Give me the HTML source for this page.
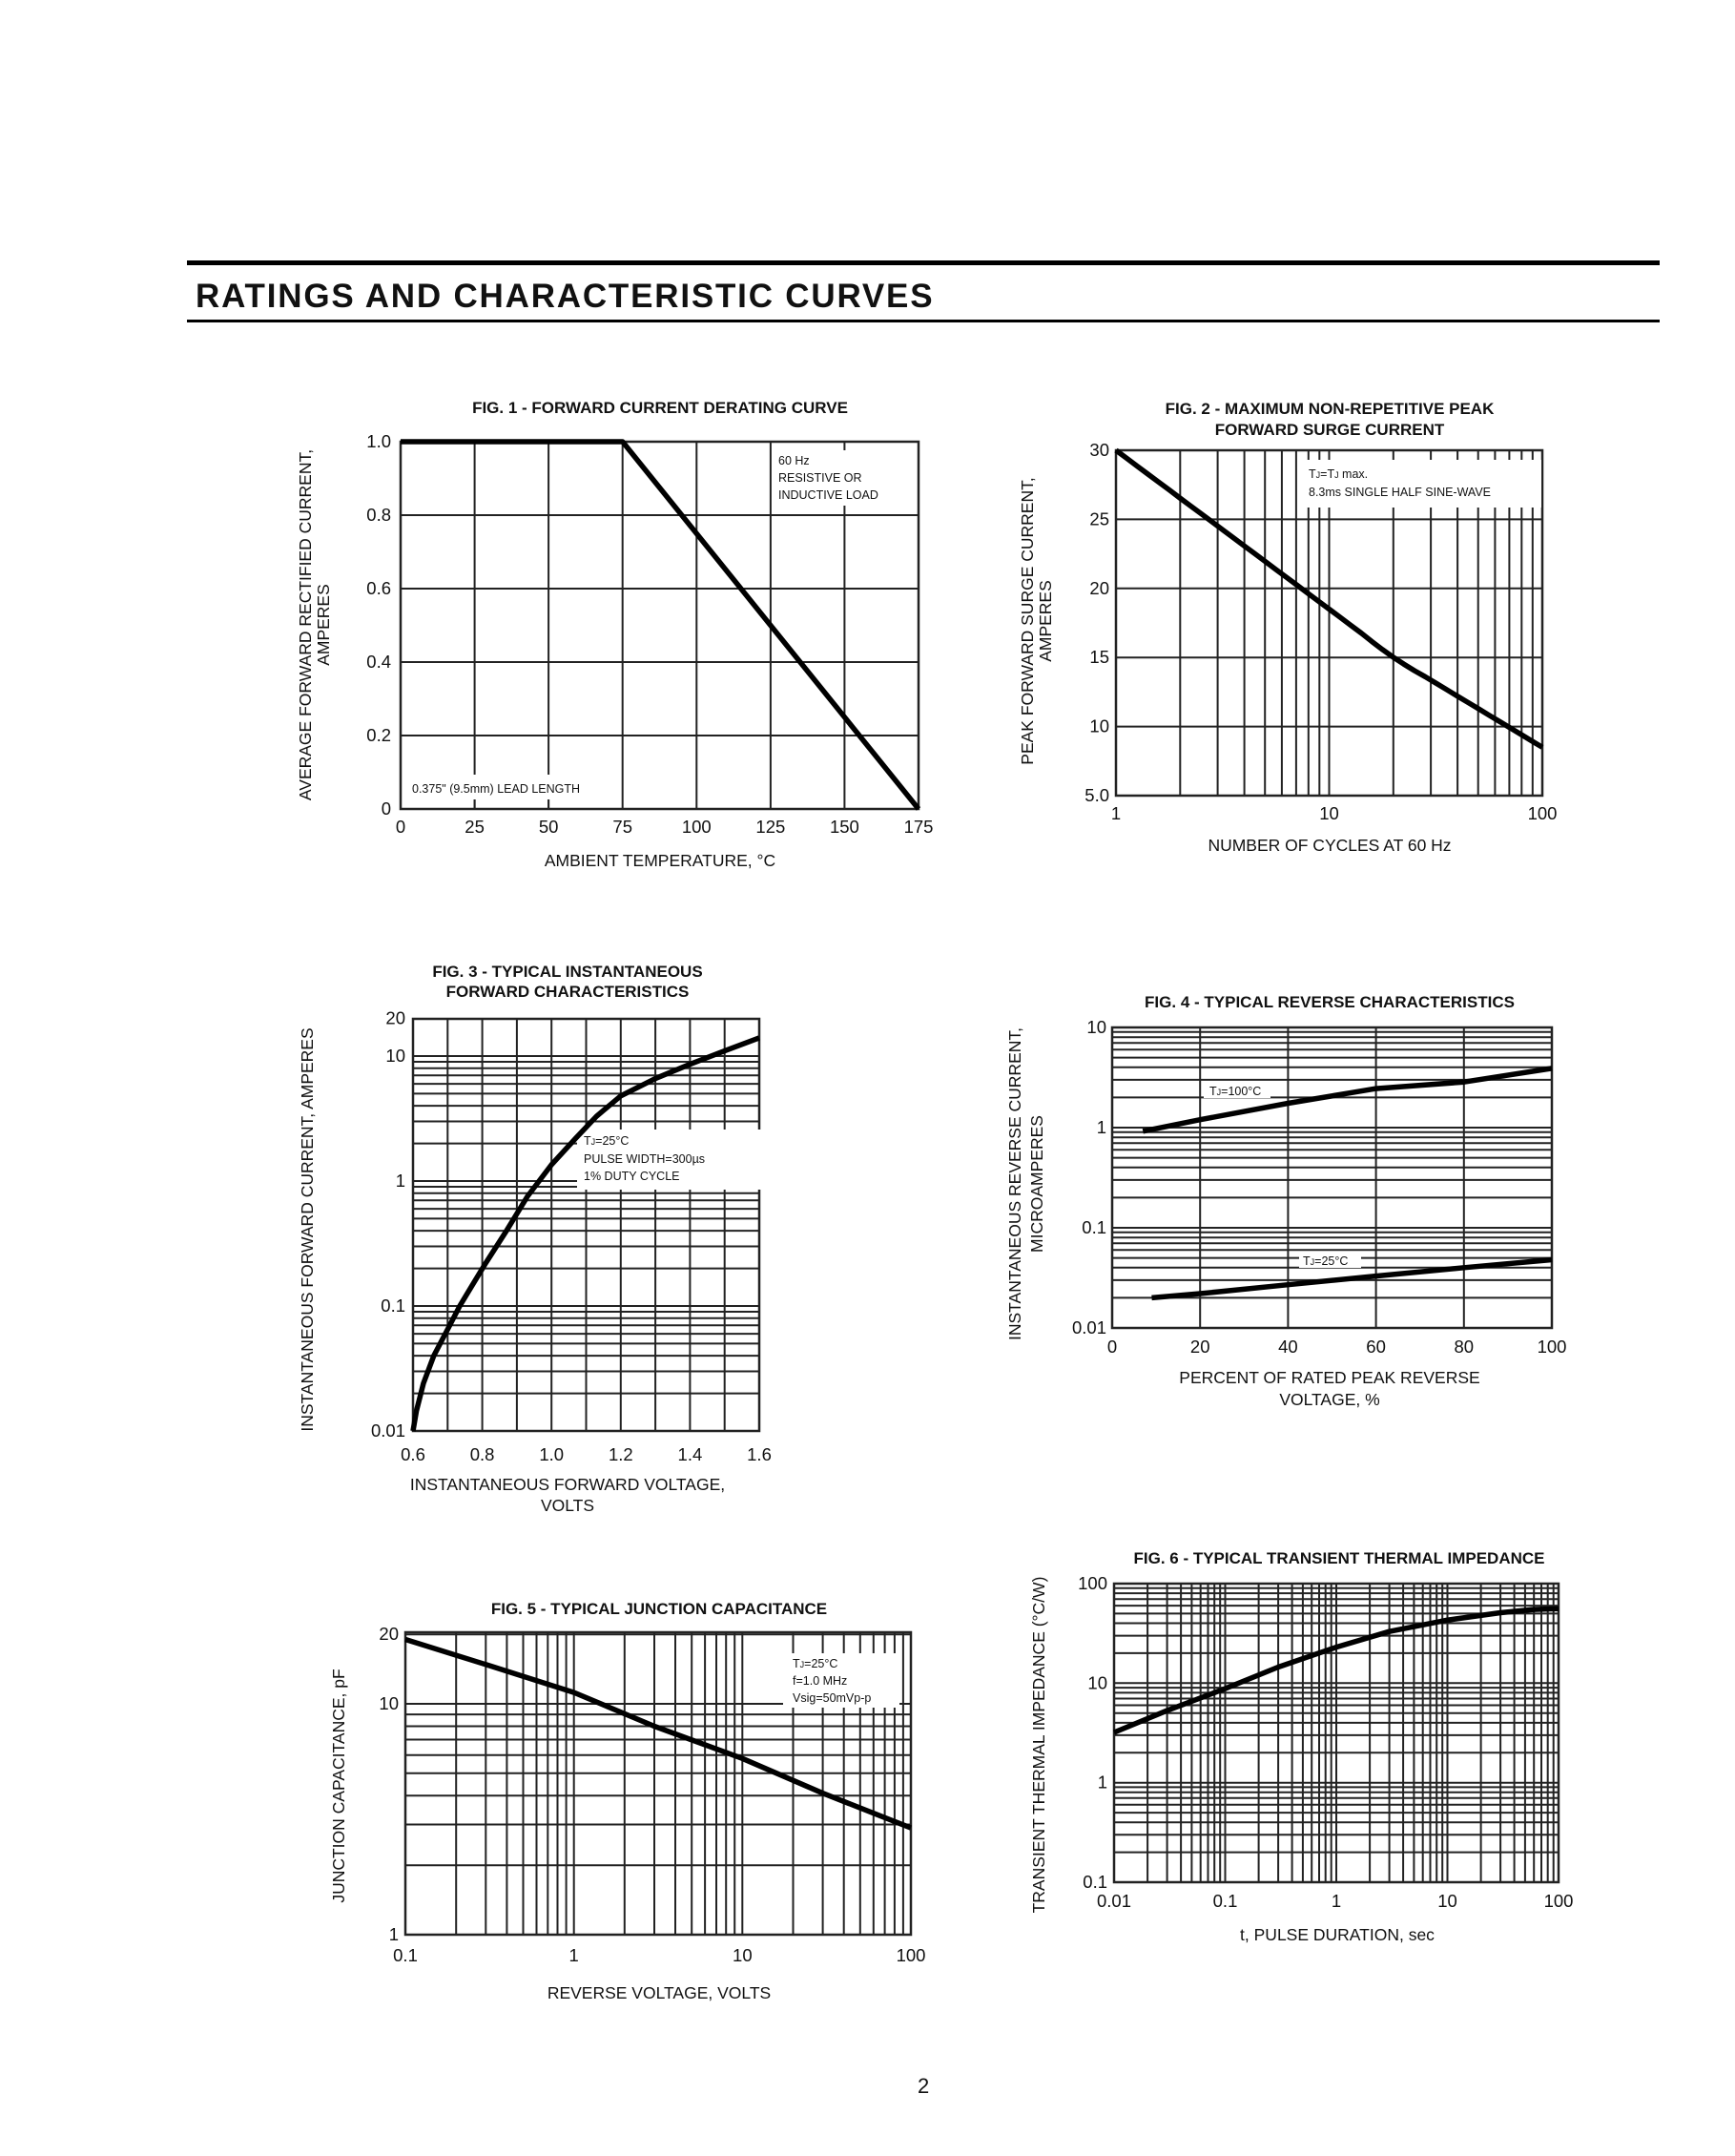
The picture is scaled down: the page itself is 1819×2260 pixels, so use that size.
<!DOCTYPE html>
<html><head><meta charset="utf-8"><style>
html,body{margin:0;padding:0;background:#fff;}
svg{display:block;}
text{font-family:"Liberation Sans",sans-serif;fill:#111;}
.t{font-weight:bold;font-size:17px;}
.k{font-size:18.5px;}
.a{font-size:17.5px;}
.s{font-size:12.5px;}
</style></head><body>
<svg id="s" width="1819" height="2260" viewBox="0 0 1819 2260" xmlns="http://www.w3.org/2000/svg">
<rect width="1819" height="2260" fill="#fff"/>
<rect x="196" y="273" width="1544" height="5" fill="#000"/>
<rect x="196" y="335" width="1544" height="3" fill="#000"/>
<text x="205" y="322" style="font-size:35px;font-weight:bold;letter-spacing:1.8px">RATINGS AND CHARACTERISTIC CURVES</text>
<text x="962" y="2194" style="font-size:22px">2</text>
<g id="g"></g>
</svg>
<script>
var g=document.getElementById('g'),h='';
function L(x1,y1,x2,y2,w,c){h+='<line x1="'+x1.toFixed(1)+'" y1="'+y1.toFixed(1)+'" x2="'+x2.toFixed(1)+'" y2="'+y2.toFixed(1)+'" stroke="'+(c||'#222')+'" stroke-width="'+(w||2)+'"/>';}
function T(x,y,s,cls,anc,rot){h+='<text x="'+x+'" y="'+y+'" class="'+cls+'" text-anchor="'+(anc||'start')+'"'+(rot?' transform="rotate(-90 '+x+' '+y+')"':'')+'>'+s+'</text>';}
function R(x,y,w,hh){h+='<rect x="'+x+'" y="'+y+'" width="'+w+'" height="'+hh+'" fill="#fff"/>';}
function P(pts){h+='<polyline points="'+pts.map(function(p){return p[0].toFixed(1)+','+p[1].toFixed(1)}).join(' ')+'" fill="none" stroke="#000" stroke-width="5.5" stroke-linejoin="round"/>';}
function logs(a,b){var r=[];for(var d=a;d<b;d++){for(var k=1;k<10;k++)r.push(k*Math.pow(10,d));}r.push(Math.pow(10,b));return r;}
function fig(o){
 o.vx.forEach(function(v){var x=o.xs(v);L(x,o.y0,x,o.y1);});
 o.hy.forEach(function(v){var y=o.ys(v);L(o.x0,y,o.x1,y);});
 h+='<rect x="'+o.x0+'" y="'+o.y0+'" width="'+(o.x1-o.x0)+'" height="'+(o.y1-o.y0)+'" fill="none" stroke="#222" stroke-width="2.5"/>';
}
// FIG1
(function(){var x0=420,x1=963,y0=463,y1=848;
var xs=function(v){return x0+v/175*(x1-x0)},ys=function(v){return y1-v*(y1-y0)};
fig({x0:x0,x1:x1,y0:y0,y1:y1,xs:xs,ys:ys,vx:[25,50,75,100,125,150],hy:[0.2,0.4,0.6,0.8]});
R(812,472,148,58);R(425,812,223,26);
T(816,487,'60 Hz','s');T(816,505,'RESISTIVE OR','s');T(816,523,'INDUCTIVE LOAD','s');
T(432,831,'0.375" (9.5mm) LEAD LENGTH','s');
L(xs(25),838,xs(25),848);L(xs(50),838,xs(50),848);
P([[x0,ys(1)],[xs(75),ys(1)],[xs(175),ys(0)]]);
T(692,433,'FIG. 1 - FORWARD CURRENT DERATING CURVE','t','middle');
['0','0.2','0.4','0.6','0.8','1.0'].forEach(function(s,i){T(410,ys(i*0.2)+6,s,'k','end');});
[0,25,50,75,100,125,150,175].forEach(function(v){T(xs(v),873,v,'k','middle');});
T(692,908,'AMBIENT TEMPERATURE, °C','a','middle');
T(326,655,'AVERAGE FORWARD RECTIFIED CURRENT,','a','middle',1);T(345,655,'AMPERES','a','middle',1);
})();
// FIG2
(function(){var x0=1170,x1=1617,y0=472,y1=834;
var xs=function(v){return x0+Math.log10(v)/2*(x1-x0)},ys=function(v){return y1-(v-5)/25*(y1-y0)};
var vx=logs(0,2).filter(function(v){return v>1&&v<100});
fig({x0:x0,x1:x1,y0:y0,y1:y1,xs:xs,ys:ys,vx:vx,hy:[10,15,20,25]});
R(1361,482,255,50);
T(1372,501,'T<tspan font-size="9">J</tspan>=T<tspan font-size="9">J</tspan> max.','s');T(1372,520,'8.3ms SINGLE HALF SINE-WAVE','s');
var d=[];for(var i=0;i<=40;i++){var lx=i*0.05,v;var x=Math.pow(10,lx);
 var a=30-11.5*lx, b=15-9.3*(lx-1.301);v=lx<1.301?a:b;
 if(Math.abs(lx-1.301)<0.15){var t=(lx-1.151)/0.3;v=a*(1-t)+b*t;}
 d.push([x,v]);}
P(d.map(function(p){return[xs(p[0]),ys(p[1])]}));
T(1394,434,'FIG. 2 - MAXIMUM NON-REPETITIVE PEAK','t','middle');T(1394,456,'FORWARD SURGE CURRENT','t','middle');
[[5,'5.0'],[10,'10'],[15,'15'],[20,'20'],[25,'25'],[30,'30']].forEach(function(p){T(1163,ys(p[0])+6,p[1],'k','end');});
[1,10,100].forEach(function(v){T(xs(v),859,v,'k','middle');});
T(1394,892,'NUMBER OF CYCLES AT 60 Hz','a','middle');
T(1083,651,'PEAK FORWARD SURGE CURRENT,','a','middle',1);T(1102,651,'AMPERES','a','middle',1);
})();
// FIG3
(function(){var x0=433,x1=796,y0=1068,y1=1500;
var xs=function(v){return x0+(v-0.6)*(x1-x0)},ys=function(v){return y1-(Math.log10(v)+2)*131};
var vx=[];for(var i=1;i<10;i++)vx.push(0.6+i*0.1);
var hy=logs(-2,1).filter(function(v){return v>0.0101});
fig({x0:x0,x1:x1,y0:y0,y1:y1,xs:xs,ys:ys,vx:vx,hy:hy});
R(605,1184,194,63);
T(612,1200,'T<tspan font-size="9">J</tspan>=25°C','s');T(612,1219,'PULSE WIDTH=300µs','s');T(612,1237,'1% DUTY CYCLE','s');
var d=[[0.6,0.01],[0.61,0.0145],[0.63,0.024],[0.66,0.04],[0.7,0.065],[0.735,0.1],[0.77,0.145],[0.81,0.22],[0.87,0.4],[0.93,0.75],[1.0,1.35],[1.07,2.2],[1.13,3.3],[1.2,4.8],[1.3,6.6],[1.4,8.6],[1.5,11],[1.6,14]];
P(d.map(function(p){return[xs(p[0]),ys(p[1])]}));
T(595,1024,'FIG. 3 - TYPICAL INSTANTANEOUS','t','middle');T(595,1045,'FORWARD CHARACTERISTICS','t','middle');
[[0.01,'0.01'],[0.1,'0.1'],[1,'1'],[10,'10'],[20,'20']].forEach(function(p){T(425,ys(p[0])+6,p[1],'k','end');});
['0.6','0.8','1.0','1.2','1.4','1.6'].forEach(function(s){T(xs(+s),1531,s,'k','middle');});
T(595,1562,'INSTANTANEOUS FORWARD VOLTAGE,','a','middle');T(595,1584,'VOLTS','a','middle');
T(328,1289,'INSTANTANEOUS FORWARD CURRENT, AMPERES','a','middle',1);
})();
// FIG4
(function(){var x0=1166,x1=1627,y0=1077,y1=1392;
var xs=function(v){return x0+v/100*(x1-x0)},ys=function(v){return y1-(Math.log10(v)+2)*105};
var hy=logs(-2,1).filter(function(v){return v>0.0101&&v<9.9});
fig({x0:x0,x1:x1,y0:y0,y1:y1,xs:xs,ys:ys,vx:[20,40,60,80],hy:hy});
R(1262,1135,70,16);R(1362,1313,65,16);
T(1268,1148,'T<tspan font-size="9">J</tspan>=100°C','s');T(1366,1326,'T<tspan font-size="9">J</tspan>=25°C','s');
var a=[[7,0.92],[20,1.2],[40,1.75],[60,2.45],[80,2.85],[100,3.9]];
var b=[[9,0.02],[20,0.022],[40,0.027],[60,0.033],[80,0.04],[100,0.048]];
P(a.map(function(p){return[xs(p[0]),ys(p[1])]}));P(b.map(function(p){return[xs(p[0]),ys(p[1])]}));
T(1394,1056,'FIG. 4 - TYPICAL REVERSE CHARACTERISTICS','t','middle');
[[0.01,'0.01'],[0.1,'0.1'],[1,'1'],[10,'10']].forEach(function(p){T(1160,ys(p[0])+6,p[1],'k','end');});
[0,20,40,60,80,100].forEach(function(v){T(xs(v),1418,v,'k','middle');});
T(1394,1450,'PERCENT OF RATED PEAK REVERSE','a','middle');T(1394,1473,'VOLTAGE, %','a','middle');
T(1070,1241,'INSTANTANEOUS REVERSE CURRENT,','a','middle',1);T(1093,1241,'MICROAMPERES','a','middle',1);
})();
// FIG5
(function(){var x0=425,x1=955,y0=1711,y1=2028;
var xs=function(v){return x0+(Math.log10(v)+1)/3*(x1-x0)},ys=function(v){return y1-Math.log10(v)*242};
var vx=logs(-1,2).filter(function(v){return v>0.101&&v<99});
var hy=logs(0,1).filter(function(v){return v>1.01}).concat([20]);
fig({x0:x0,x1:x1,y0:y0,y1:y1,xs:xs,ys:ys,vx:vx,hy:hy});
R(821,1733,122,57);
T(831,1748,'T<tspan font-size="9">J</tspan>=25°C','s');T(831,1766,'f=1.0 MHz','s');T(831,1784,'Vsig=50mVp-p','s');
var d=[[0.1,19],[0.3,14.8],[1,11.2],[3,8],[10,5.8],[30,4.1],[100,2.9]];
P(d.map(function(p){return[xs(p[0]),ys(p[1])]}));
T(691,1692,'FIG. 5 - TYPICAL JUNCTION CAPACITANCE','t','middle');
[[1,'1'],[10,'10'],[20,'20']].forEach(function(p){T(418,ys(p[0])+6,p[1],'k','end');});
[0.1,1,10,100].forEach(function(v){T(xs(v),2056,v,'k','middle');});
T(691,2095,'REVERSE VOLTAGE, VOLTS','a','middle');
T(361,1872,'JUNCTION CAPACITANCE, pF','a','middle',1);
})();
// FIG6
(function(){var x0=1168,x1=1634,y0=1660,y1=1973;
var xs=function(v){return x0+(Math.log10(v)+2)/4*(x1-x0)},ys=function(v){return y1-(Math.log10(v)+1)/3*(y1-y0)};
var vx=logs(-2,2).filter(function(v){return v>0.0101&&v<99});
var hy=logs(-1,2).filter(function(v){return v>0.101&&v<99});
fig({x0:x0,x1:x1,y0:y0,y1:y1,xs:xs,ys:ys,vx:vx,hy:hy});
var d=[[0.01,3.2],[0.03,5.3],[0.1,8.8],[0.3,14.5],[1,23],[3,33],[10,43],[30,51],[60,55],[100,56]];
P(d.map(function(p){return[xs(p[0]),ys(p[1])]}));
T(1404,1639,'FIG. 6 - TYPICAL TRANSIENT THERMAL IMPEDANCE','t','middle');
[[0.1,'0.1'],[1,'1'],[10,'10'],[100,'100']].forEach(function(p){T(1161,ys(p[0])+6,p[1],'k','end');});
[['0.01',0.01],['0.1',0.1],['1',1],['10',10],['100',100]].forEach(function(p){T(xs(p[1]),1999,p[0],'k','middle');});
T(1402,2034,'t, PULSE DURATION, sec','a','middle');
T(1095,1829,'TRANSIENT THERMAL IMPEDANCE (°C/W)','a','middle',1);
})();
g.innerHTML=h;
</script>
</body></html>
